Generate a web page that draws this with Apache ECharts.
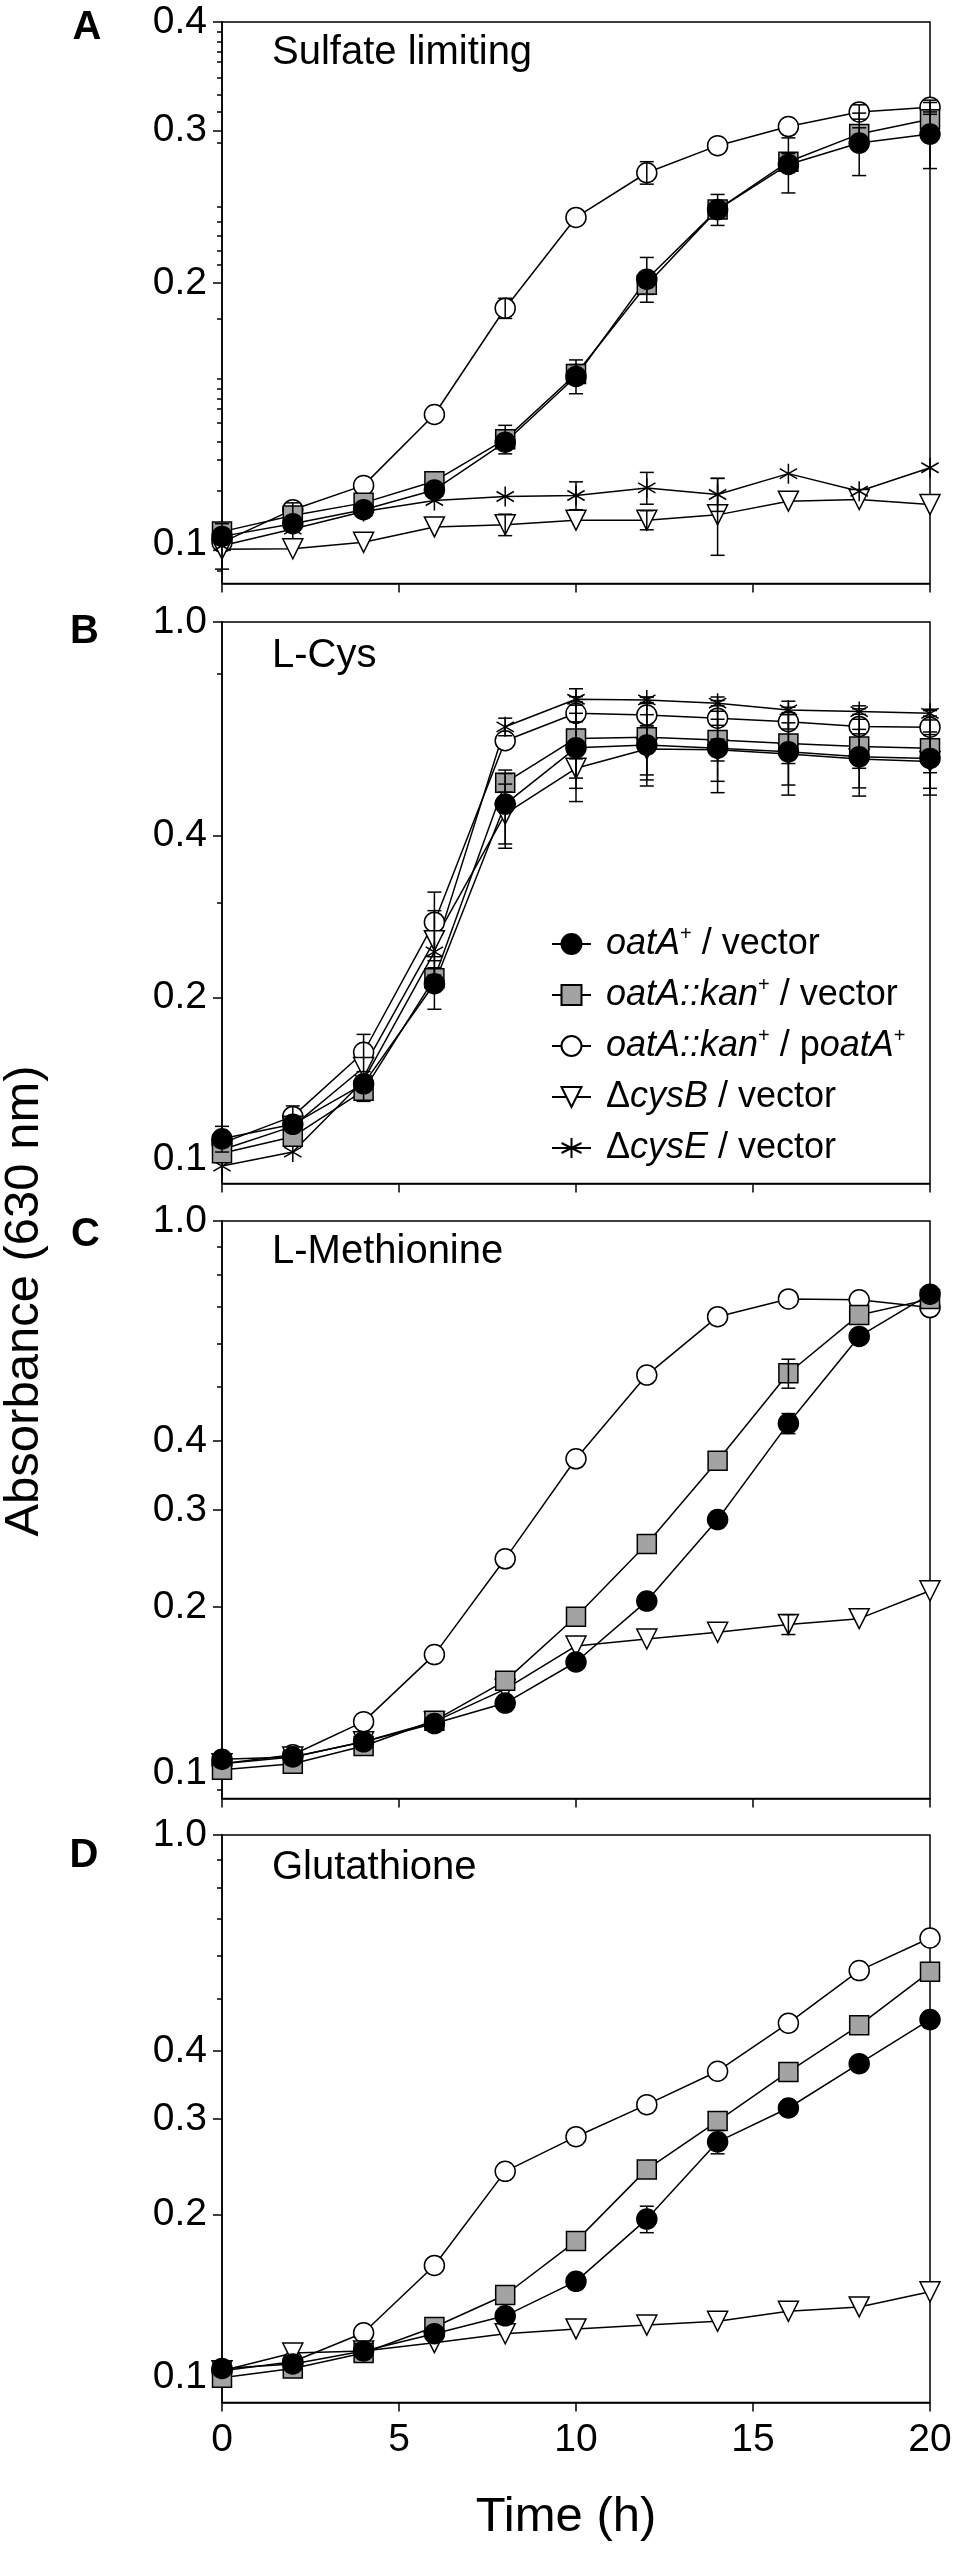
<!DOCTYPE html>
<html>
<head>
<meta charset="utf-8">
<title>Growth curves</title>
<script src="https://cdn.jsdelivr.net/npm/echarts@6.0.0/dist/echarts.min.js"></script>
<style>
  html, body { margin: 0; padding: 0; background: #fff; }
  #chart { width: 955px; height: 2552px; }
</style>
</head>
<body>
<div id="chart"></div>
<script>
// sampling times (h)
var time = [0, 2, 4, 6, 8, 10, 12, 14, 16, 18, 20];

// A - sulfate limiting
var A_wt      = [0.102, 0.1055, 0.1095, 0.1154, 0.131, 0.156, 0.202, 0.243, 0.274, 0.290, 0.297];
var A_wtErr   = [0, 0, 0.002, 0, 0.002, 0.007, 0.012, 0.010, 0.020, 0.024, 0.026];
var A_kan     = [0.1033, 0.1078, 0.1115, 0.1181, 0.132, 0.157, 0.199, 0.243, 0.276, 0.297, 0.309];
var A_kanErr  = [0, 0, 0, 0, 0.005, 0.004, 0.005, 0.004, 0.006, 0.005, 0.006];
var A_comp    = [0.1004, 0.1095, 0.1168, 0.141, 0.187, 0.238, 0.268, 0.288, 0.303, 0.315, 0.319];
var A_compErr = [0, 0.002, 0, 0, 0.005, 0, 0.008, 0, 0, 0.006, 0.006];
var A_cysB    = [0.0986, 0.0987, 0.1004, 0.1046, 0.1052, 0.1065, 0.1065, 0.108, 0.112, 0.1125, 0.111];
var A_cysBErr = [0, 0, 0, 0, 0.003, 0, 0.0027, 0.011, 0, 0, 0];
var A_cysE    = [0.0995, 0.104, 0.109, 0.1122, 0.1134, 0.1137, 0.116, 0.114, 0.1205, 0.115, 0.1224];
var A_cysEErr = [0.006, 0, 0, 0, 0, 0.0042, 0.0049, 0.005, 0, 0, 0];

// B - L-Cys
var B_wt      = [0.109, 0.116, 0.138, 0.212, 0.458, 0.583, 0.590, 0.582, 0.573, 0.561, 0.557];
var B_wtErr   = [0.006, 0, 0, 0.022, 0.072, 0.093, 0.082, 0.077, 0.076, 0.070, 0.067];
var B_kan     = [0.1025, 0.110, 0.134, 0.217, 0.502, 0.607, 0.610, 0.603, 0.594, 0.586, 0.582];
var B_kanErr  = [0, 0, 0.006, 0.01, 0.02, 0.144, 0.115, 0.122, 0.118, 0.112, 0.106];
var B_comp    = [0.107, 0.120, 0.158, 0.276, 0.601, 0.676, 0.671, 0.662, 0.652, 0.639, 0.637];
var B_compErr = [0, 0.0055, 0.0126, 0.038, 0, 0.024, 0.034, 0.02, 0.02, 0.02, 0.02];
var B_cysB    = [0.104, 0.115, 0.148, 0.255, 0.439, 0.534, 0.580, 0.578, 0.568, 0.556, 0.550];
var B_cysBErr = [0, 0, 0, 0.035, 0.06, 0.022, 0.061, 0.027, 0.023, 0.022, 0.026];
var B_cysE    = [0.097, 0.103, 0.140, 0.243, 0.638, 0.718, 0.716, 0.706, 0.686, 0.681, 0.676];
var B_cysEErr = [0, 0, 0, 0, 0.024, 0.008, 0.008, 0.008, 0.008, 0.008, 0.008];

// C - L-Methionine
var C_wt      = [0.106, 0.107, 0.114, 0.123, 0.134, 0.159, 0.205, 0.288, 0.430, 0.618, 0.737];
var C_wtErr   = [0, 0, 0, 0, 0, 0, 0, 0, 0.018, 0, 0];
var C_kan     = [0.1015, 0.104, 0.112, 0.1245, 0.147, 0.192, 0.260, 0.368, 0.530, 0.676, 0.722];
var C_kanErr  = [0, 0, 0, 0, 0, 0, 0, 0, 0.032, 0, 0];
var C_comp    = [0.104, 0.108, 0.124, 0.164, 0.2445, 0.371, 0.526, 0.671, 0.7225, 0.720, 0.697];
var C_compErr = [0, 0, 0, 0, 0, 0, 0, 0, 0, 0, 0];
var C_cysB    = [0.104, 0.107, 0.114, 0.124, 0.142, 0.170, 0.175, 0.180, 0.186, 0.1905, 0.214];
var C_cysBErr = [0, 0, 0, 0, 0, 0, 0, 0, 0.0077, 0, 0];

// D - Glutathione
var D_wt      = [0.104, 0.106, 0.112, 0.1205, 0.130, 0.1505, 0.196, 0.272, 0.314, 0.379, 0.457];
var D_wtErr   = [0, 0, 0, 0, 0, 0, 0.011, 0.0135, 0, 0, 0];
var D_kan     = [0.100, 0.104, 0.111, 0.124, 0.142, 0.1785, 0.242, 0.297, 0.366, 0.446, 0.560];
var D_kanErr  = [0, 0, 0, 0, 0, 0, 0, 0, 0, 0, 0];
var D_comp    = [0.103, 0.107, 0.121, 0.161, 0.240, 0.278, 0.3185, 0.367, 0.450, 0.5625, 0.646];
var D_compErr = [0, 0, 0, 0, 0, 0, 0, 0, 0, 0, 0];
var D_cysB    = [0.103, 0.111, 0.112, 0.116, 0.1205, 0.123, 0.125, 0.127, 0.1325, 0.135, 0.144];
var D_cysBErr = [0, 0, 0, 0, 0, 0, 0, 0, 0, 0, 0];

// y axis tick labels and minor ticks
var yLabelsA = [0.1, 0.2, 0.3, 0.4];
var yMinorA  = [0.093, 0.115, 0.125, 0.131, 0.138, 0.143, 0.147, 0.151, 0.155, 0.182,
                0.21, 0.218, 0.227, 0.235, 0.245, 0.29, 0.315, 0.33, 0.345, 0.36, 0.37, 0.38, 0.39];
var yLabelsB = [0.1, 0.2, 0.4, 1.0];
var yMinorB  = [0.3, 0.8];
var yLabelsC = [0.1, 0.2, 0.3, 0.4, 1.0];
var yMinorC  = [0.0935, 0.5, 0.6, 0.7, 0.8, 0.9];
var yLabelsD = [0.1, 0.2, 0.3, 0.4, 1.0];
var yMinorD  = [0.5, 0.6, 0.7, 0.8, 0.9];

var FONT = '"Liberation Sans", Arial, Helvetica, sans-serif';
var STAR = 'path://M0,-10L0,10M-8.66,-5L8.66,5M-8.66,5L8.66,-5';

// drawing order: later ones sit on top
var STRAINS = [
  { key: 'comp', name: 'oatA::kan+ / poatA+', symbol: 'circle', size: 20, fill: '#fff' },
  { key: 'cysB', name: 'ΔcysB / vector', symbol: 'triangle', rotate: 180, size: 20, fill: '#fff' },
  { key: 'cysE', name: 'ΔcysE / vector', symbol: STAR, size: 20, fill: 'none' },
  { key: 'kan',  name: 'oatA::kan+ / vector', symbol: 'rect', size: 19, fill: '#a3a3a3' },
  { key: 'wt',   name: 'oatA+ / vector', symbol: 'circle', size: 20, fill: '#000' }
];
var LEGEND_ORDER = ['oatA+ / vector', 'oatA::kan+ / vector', 'oatA::kan+ / poatA+', 'ΔcysB / vector', 'ΔcysE / vector'];
var LEGEND_TEXT = {
  'oatA+ / vector': '{i|oatA}{s|+}{n| / vector}',
  'oatA::kan+ / vector': '{i|oatA::kan}{s|+}{n| / vector}',
  'oatA::kan+ / poatA+': '{i|oatA::kan}{s|+}{n| / p}{i|oatA}{s|+}',
  'ΔcysB / vector': '{n|Δ}{i|cysB}{n| / vector}',
  'ΔcysE / vector': '{n|Δ}{i|cysE}{n| / vector}'
};

var panels = [
  { letter: 'A', title: 'Sulfate limiting', max: 0.4, labels: yLabelsA, minor: yMinorA,
    grid: { top: 22, height: 561.5 }, letterPos: [87, 28], titleY: 52.5,
    data: { wt: [A_wt, A_wtErr], kan: [A_kan, A_kanErr], comp: [A_comp, A_compErr], cysB: [A_cysB, A_cysBErr], cysE: [A_cysE, A_cysEErr] } },
  { letter: 'B', title: 'L-Cys', max: 1.0, labels: yLabelsB, minor: yMinorB,
    grid: { top: 622, height: 561.5 }, letterPos: [84.5, 632], titleY: 656,
    data: { wt: [B_wt, B_wtErr], kan: [B_kan, B_kanErr], comp: [B_comp, B_compErr], cysB: [B_cysB, B_cysBErr], cysE: [B_cysE, B_cysEErr] } },
  { letter: 'C', title: 'L-Methionine', max: 1.0, labels: yLabelsC, minor: yMinorC,
    grid: { top: 1221, height: 577.5 }, letterPos: [85.5, 1235], titleY: 1252,
    data: { wt: [C_wt, C_wtErr], kan: [C_kan, C_kanErr], comp: [C_comp, C_compErr], cysB: [C_cysB, C_cysBErr] } },
  { letter: 'D', title: 'Glutathione', max: 1.0, labels: yLabelsD, minor: yMinorD,
    grid: { top: 1835, height: 567.5 }, letterPos: [84, 1856], titleY: 1868,
    data: { wt: [D_wt, D_wtErr], kan: [D_kan, D_kanErr], comp: [D_comp, D_compErr], cysB: [D_cysB, D_cysBErr] } }
];

function pairs(values) {
  return time.map(function (t, i) { return [t, values[i]]; });
}

function renderErr(params, api) {
  var t = api.value(0), v = api.value(1), e = api.value(2);
  var hi = api.coord([t, v + e]);
  var lo = api.coord([t, Math.max(v - e, 0.0905)]);
  var cap = 7;
  var st = { stroke: '#000', lineWidth: 1.5 };
  return {
    type: 'group',
    children: [
      { type: 'line', shape: { x1: hi[0], y1: hi[1], x2: lo[0], y2: lo[1] }, style: st },
      { type: 'line', shape: { x1: hi[0] - cap, y1: hi[1], x2: hi[0] + cap, y2: hi[1] }, style: st },
      { type: 'line', shape: { x1: lo[0] - cap, y1: lo[1], x2: lo[0] + cap, y2: lo[1] }, style: st }
    ]
  };
}

var grids = [], xAxes = [], yAxes = [], series = [], graphics = [];
var tickFmt = function (v) { return Number(v).toFixed(1); };

panels.forEach(function (p, i) {
  grids.push({
    left: 222, width: 708, top: p.grid.top, height: p.grid.height,
    show: true, borderColor: '#000', borderWidth: 1.5, backgroundColor: 'transparent',
    outerBoundsMode: 'none'
  });
  xAxes.push({
    type: 'value', gridIndex: i, min: 0, max: 20, interval: 5,
    axisLine: { show: true, onZero: false, lineStyle: { color: '#000', width: 1.5 } },
    axisTick: { show: true, inside: false, length: 9, lineStyle: { color: '#000', width: 1.5 } },
    axisLabel: { show: i === 3, margin: 18, fontSize: 39, fontFamily: FONT, color: '#000' },
    splitLine: { show: false },
    name: i === 3 ? 'Time (h)' : '',
    nameLocation: 'middle', nameGap: 90,
    nameTextStyle: { fontSize: 49, fontFamily: FONT, color: '#000', padding: [0, 20, 0, 0] }
  });
  yAxes.push({
    type: 'log', logBase: 10, gridIndex: i, min: 0.09, max: p.max,
    axisLine: { show: true, lineStyle: { color: '#000', width: 1.5 } },
    axisTick: { show: true, length: 9, customValues: p.labels, lineStyle: { color: '#000', width: 1.5 } },
    axisLabel: { customValues: p.labels, formatter: tickFmt, margin: 15, fontSize: 39, fontFamily: FONT, color: '#000' },
    splitLine: { show: false }
  });

  var errRows = [];
  STRAINS.forEach(function (s) {
    var d = p.data[s.key];
    if (!d) return;
    series.push({
      type: 'line', name: s.name, xAxisIndex: i, yAxisIndex: i,
      data: pairs(d[0]),
      symbol: s.symbol, symbolSize: s.size, symbolRotate: s.rotate || 0, symbolKeepAspect: true,
      showAllSymbol: true,
      lineStyle: { color: '#000', width: 1.5 },
      itemStyle: { color: s.fill, borderColor: '#000', borderWidth: 1.5 },
      emphasis: { disabled: true },
      z: 2
    });
    d[1].forEach(function (e, k) {
      if (e > 0) errRows.push([time[k], d[0][k], e]);
    });
  });
  series.push({
    type: 'custom', name: 'err' + p.letter, xAxisIndex: i, yAxisIndex: i,
    data: errRows, encode: { x: 0, y: 1 }, renderItem: renderErr, silent: true, z: 3
  });

  graphics.push({
    type: 'text', x: p.letterPos[0], y: p.letterPos[1],
    style: { text: p.letter, fontSize: 40, fontWeight: 'bold', fontFamily: FONT, fill: '#000', align: 'center', verticalAlign: 'middle' }
  });
  graphics.push({
    type: 'text', x: 272, y: p.titleY,
    style: { text: p.title, fontSize: 40, fontFamily: FONT, fill: '#000', align: 'left', verticalAlign: 'middle' }
  });
});

// minor ticks on a second, label-less log axis in each grid
panels.forEach(function (p, i) {
  yAxes.push({
    type: 'log', logBase: 10, gridIndex: i, position: 'left', min: 0.09, max: p.max,
    axisLine: { show: false },
    axisLabel: { show: false },
    axisTick: { show: true, length: 5, customValues: p.minor, lineStyle: { color: '#000', width: 1.5 } },
    splitLine: { show: false }
  });
});

graphics.push({
  type: 'text', x: 24.5, y: 1301, rotation: Math.PI / 2,
  style: { text: 'Absorbance (630 nm)', fontSize: 49, fontFamily: FONT, fill: '#000', align: 'center', verticalAlign: 'middle' }
});

var richBase = { fontSize: 36, fontFamily: FONT, color: '#000', lineHeight: 40 };
var option = {
  animation: false,
  backgroundColor: '#fff',
  grid: grids,
  xAxis: xAxes,
  yAxis: yAxes,
  series: series,
  graphic: graphics,
  legend: {
    orient: 'vertical', left: 546, top: 919,
    itemWidth: 39, itemHeight: 25, itemGap: 11,
    selectedMode: false,
    data: LEGEND_ORDER,
    formatter: function (name) { return LEGEND_TEXT[name]; },
    textStyle: {
      fontSize: 36, fontFamily: FONT, color: '#000', lineHeight: 40, padding: [0, 0, 0, 10],
      rich: {
        i: echarts.util.extend({ fontStyle: 'italic' }, richBase),
        n: echarts.util.extend({}, richBase),
        s: { fontSize: 20, fontFamily: FONT, color: '#000', lineHeight: 20, verticalAlign: 'top' }
      }
    }
  }
};

var myChart = echarts.init(document.getElementById('chart'), null, { renderer: 'canvas' });
myChart.setOption(option);
window.addEventListener('resize', function () {
  myChart.resize();
});
</script>
</body>
</html>
